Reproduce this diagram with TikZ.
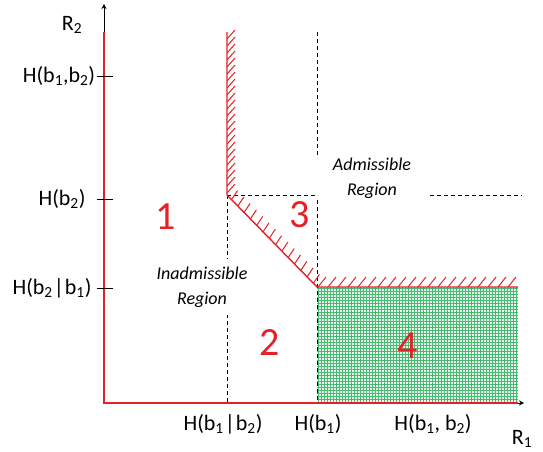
\documentclass[tikz,border=0pt]{standalone}
\usepackage{fontspec}
\setmainfont{Carlito}
\usepackage{xcolor}
\usetikzlibrary{arrows.meta,calc}

\definecolor{bred}{RGB}{228,32,40}
\definecolor{gridgreen}{RGB}{40,175,90}

\begin{document}
\begin{tikzpicture}[
    x=1pt, y=-1pt,
    axisline/.style={bred, line width=1.6pt},
    arr/.style={-{Stealth[length=5pt,width=5pt]}, line width=0.8pt, black},
    bound/.style={bred, line width=1.4pt},
    hatch/.style={bred, line width=1pt},
    guide/.style={black, line width=0.8pt, dash pattern=on 4pt off 3pt},
    tickmark/.style={black, line width=0.8pt},
    lbl/.style={font=\fontsize{22}{24}\selectfont},
    region/.style={font=\fontsize{18}{25}\selectfont\itshape, align=center, fill=white},
    num/.style={font=\fontsize{40}{40}\selectfont, text=bred}
]
  \useasboundingbox (0,0) rectangle (543,452);

  % axes and corners of the bound
  \coordinate (O)  at (104,403);
  \coordinate (ry) at (104,32);
  \coordinate (ty) at (104,4);
  \coordinate (rx) at (518,403);
  \coordinate (tx) at (524,403);
  \coordinate (A)  at (227,32);
  \coordinate (B)  at (227,195);
  \coordinate (C)  at (317,287);
  \coordinate (D)  at (518,287);

  % region 4
  \fill[gridgreen!10] (C) rectangle (rx);
  \draw[gridgreen!85, line width=0.45pt, step=3pt] (C) grid (rx);

  \draw[guide] (B) -- (B |- O);
  \draw[guide] (B) -- (522,195);
  \draw[guide] (317,32) -- (C |- O);

  \node[region, inner ysep=8pt] (inadm) at (202,287) {Inadmissible\\Region};
  \node[region, minimum width=110pt, inner ysep=2pt] (adm) at (372,178) {Admissible\\Region};

  \draw[axisline] (ry) -- (O) -- (rx);
  \draw[arr] (ry) -- (ty);
  \draw[arr] (rx) -- (tx);

  \draw[bound] (A) -- (B) -- (C) -- (D);
  \foreach \y in {39,46,...,194} \draw[hatch] (227,\y) -- ++(8,-9);
  \foreach \t in {0.05,0.12,...,1} \draw[hatch] ($(B)!\t!(C)$) -- ++(6,-9);
  \foreach \x in {318,328,...,508} \draw[hatch] (\x,287) -- ++(8,-10);

  \foreach \y in {76,199,288} \draw[tickmark] (97,\y) -- (113,\y);

  \node[lbl] (r2)   at (72,25)   {R\textsubscript{2}};
  \node[lbl] (h12)  at (59,76)   {H(b\textsubscript{1},b\textsubscript{2})};
  \node[lbl] (h2)   at (62,199)  {H(b\textsubscript{2})};
  \node[lbl] (h2g1) at (52,288)  {H(b\textsubscript{2}\kern1pt|\kern1pt b\textsubscript{1})};
  \node[lbl] (h1g2) at (223,424) {H(b\textsubscript{1}\kern1pt|\kern1pt b\textsubscript{2})};
  \node[lbl] (h1)   at (318,424) {H(b\textsubscript{1})};
  \node[lbl] (h12x) at (433,424) {H(b\textsubscript{1}, b\textsubscript{2})};
  \node[lbl, anchor=base] (r1) at (522,444) {R\textsubscript{1}};

  \node[num] (n1) at (166,217) {1};
  \node[num] (n2) at (270,343) {2};
  \node[num] (n3) at (300,215) {3};
  \node[num] (n4) at (408,346) {4};
\end{tikzpicture}
\end{document}
